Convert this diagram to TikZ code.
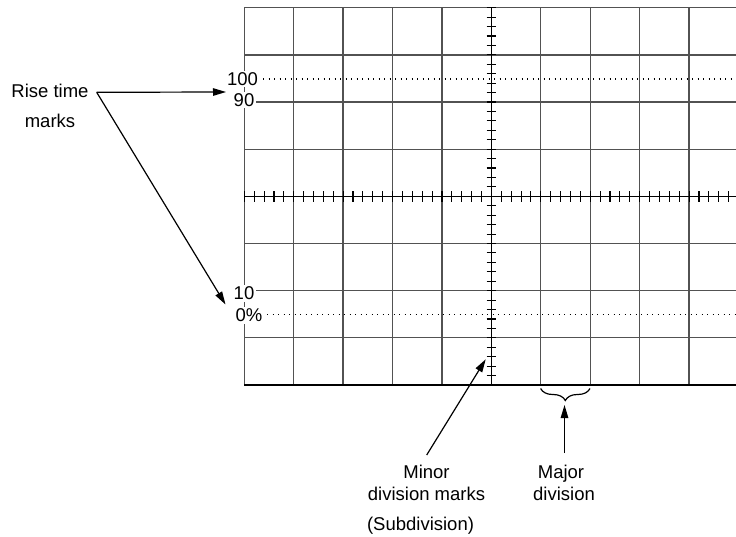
\documentclass[tikz,border=0pt]{standalone}
\usepackage{fontspec}
\setmainfont{Liberation Sans}
\usetikzlibrary{arrows.meta,decorations.pathreplacing}
\begin{document}
\begin{tikzpicture}[x=1pt,y=-1pt,
  gridline/.style={line width=1.3pt, black!68},
  axisline/.style={line width=1.3pt, black},
  tick/.style={line width=1.1pt, black},
  dotline/.style={line width=1.3pt, dash pattern=on 1.3pt off 4.2pt, black},
  lbl/.style={font=\fontsize{18.5}{22}\selectfont, inner sep=0pt, anchor=base},
  scl/.style={lbl, fill=white, inner sep=1.5pt, text height=13.3pt, text depth=0.3pt},
  arr/.style={line width=1.2pt, -{Triangle[length=13pt,width=7.5pt]}},
  plain/.style={line width=1.2pt}]
\useasboundingbox (0,0) rectangle (736,537);
\fill[white] (0,0) rectangle (736,537);
\def\dx{49.42}
\def\dy{47.16}
\def\xo{244.3}
\def\yo{7.7}
% grid
\foreach \i in {0,...,9} \draw[gridline] ({\xo+\i*\dx},\yo) -- ({\xo+\i*\dx},385);
\foreach \j in {0,...,7} \draw[gridline] (\xo,{\yo+\j*\dy}) -- (736,{\yo+\j*\dy});
\draw[axisline] (\xo,385) -- (736,385);
% centre axes
\draw[axisline] ({\xo+5*\dx},\yo) -- ({\xo+5*\dx},386);
\draw[axisline] (\xo,{\yo+4*\dy}) -- (736,{\yo+4*\dy});
\foreach \k in {0,...,40} \draw[tick] ({\xo+5*\dx-4.7},{\yo+\k*\dy/5}) -- ++(9.4,0);
\foreach \k in {0,...,49} \draw[tick] ({\xo+\k*\dx/5},{\yo+4*\dy-5.3}) -- ++(0,10.6);
% dotted levels
\draw[dotline] (263,78.9) -- (736,78.9);
\draw[dotline] (267,314.3) -- (736,314.3);
% scale labels
\node[scl] (l100) at (242.5,85.7) {100};
\node[scl] (l90) at (244,106.7) {90};
\node[scl] (l10) at (244,300) {10};
\node[scl] (l0) at (249,321.7) {0\%};
% rise time marks
\node[lbl] (rise1) at (50,97.3) {Rise time};
\node[lbl] (rise2) at (50,127.3) {marks};
\coordinate (rs) at (96.7,92.3);
\coordinate (t100) at (226,92);
\coordinate (t0) at (225.5,304.5);
\draw[arr] (rs) -- (t100);
\draw[arr] (rs) -- (t0);
% minor division marks
\node[lbl] (minor1) at (426.5,478.3) {Minor};
\node[lbl] (minor2) at (426.5,500) {division marks};
\node[lbl] (sub) at (420.5,530) {(Subdivision)};
\coordinate (ms) at (426.7,455);
\coordinate (mt) at (485.7,359.3);
\draw[arr] (ms) -- (mt);
% major division
\coordinate (bl) at (540.6,388.5);
\coordinate (br) at (590,388.5);
\draw[plain, decorate, decoration={brace, amplitude=12pt, mirror}] (bl) -- (br);
\node[lbl] (major1) at (561,478.3) {Major};
\node[lbl] (major2) at (564,500) {division};
\coordinate (as) at (564.5,453);
\coordinate (at) at (564.5,405);
\draw[arr] (as) -- (at);
\end{tikzpicture}
\end{document}
